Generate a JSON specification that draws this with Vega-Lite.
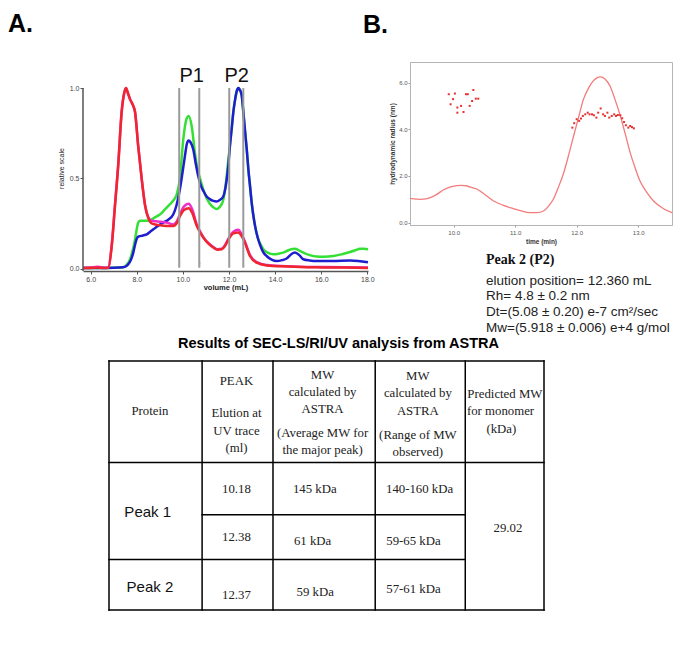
{
  "$schema": "https://vega.github.io/schema/vega-lite/v6.json",
  "padding": {"left": 8, "top": 12, "right": 0, "bottom": 0},
  "background": "white",
  "config": {"view": {"stroke": null}, "font": "Liberation Sans"},
  "title": {"text": "B.", "anchor": "start", "frame": "group", "dx": 280, "offset": -46, "fontSize": 25, "fontWeight": "bold", "font": "Liberation Sans", "color": "black", "baseline": "alphabetic"},
  "bounds": "flush",
  "align": "none",
  "columns": 2,
  "spacing": {"row": 90, "column": 42},
  "concat": [
    {
      "width": 285,
      "height": 209,
      "title": {"text": "A.", "anchor": "start", "frame": "group", "dx": -75, "offset": 5, "fontSize": 25, "fontWeight": "bold", "font": "Liberation Sans", "color": "black", "baseline": "alphabetic"},
      "layer": [
        {
          "data": {"values": [
            {"series":"green","volume":5.67,"signal":0.003},{"series":"green","volume":6.5,"signal":0.004},{"series":"green","volume":7.0,"signal":0.005},{"series":"green","volume":7.42,"signal":0.008},{"series":"green","volume":7.55,"signal":0.02},{"series":"green","volume":7.7,"signal":0.05},{"series":"green","volume":7.8,"signal":0.09},{"series":"green","volume":7.92,"signal":0.16},{"series":"green","volume":8.0,"signal":0.22},{"series":"green","volume":8.06,"signal":0.255},{"series":"green","volume":8.15,"signal":0.265},{"series":"green","volume":8.3,"signal":0.265},{"series":"green","volume":8.57,"signal":0.268},{"series":"green","volume":8.8,"signal":0.285},{"series":"green","volume":9.0,"signal":0.3},{"series":"green","volume":9.2,"signal":0.325},{"series":"green","volume":9.44,"signal":0.357},{"series":"green","volume":9.6,"signal":0.38},{"series":"green","volume":9.73,"signal":0.41},{"series":"green","volume":9.87,"signal":0.5},{"series":"green","volume":10.02,"signal":0.72},{"series":"green","volume":10.16,"signal":0.83},{"series":"green","volume":10.25,"signal":0.845},{"series":"green","volume":10.38,"signal":0.79},{"series":"green","volume":10.52,"signal":0.644},{"series":"green","volume":10.62,"signal":0.56},{"series":"green","volume":10.74,"signal":0.5},{"series":"green","volume":10.88,"signal":0.44},{"series":"green","volume":11.03,"signal":0.39},{"series":"green","volume":11.17,"signal":0.36},{"series":"green","volume":11.32,"signal":0.34},{"series":"green","volume":11.45,"signal":0.33},{"series":"green","volume":11.54,"signal":0.335},{"series":"green","volume":11.65,"signal":0.35},{"series":"green","volume":11.75,"signal":0.38},{"series":"green","volume":11.85,"signal":0.46},{"series":"green","volume":11.97,"signal":0.6},{"series":"green","volume":12.04,"signal":0.68},{"series":"green","volume":12.12,"signal":0.78},{"series":"green","volume":12.19,"signal":0.87},{"series":"green","volume":12.27,"signal":0.94},{"series":"green","volume":12.33,"signal":0.98},{"series":"green","volume":12.4,"signal":1.0},{"series":"green","volume":12.47,"signal":0.99},{"series":"green","volume":12.55,"signal":0.96},{"series":"green","volume":12.62,"signal":0.87},{"series":"green","volume":12.69,"signal":0.77},{"series":"green","volume":12.77,"signal":0.66},{"series":"green","volume":12.84,"signal":0.55},{"series":"green","volume":12.91,"signal":0.46},{"series":"green","volume":12.98,"signal":0.37},{"series":"green","volume":13.05,"signal":0.3},{"series":"green","volume":13.13,"signal":0.237},{"series":"green","volume":13.25,"signal":0.17},{"series":"green","volume":13.35,"signal":0.14},{"series":"green","volume":13.49,"signal":0.107},{"series":"green","volume":13.7,"signal":0.088},{"series":"green","volume":13.92,"signal":0.08},{"series":"green","volume":14.15,"signal":0.083},{"series":"green","volume":14.35,"signal":0.089},{"series":"green","volume":14.6,"signal":0.103},{"series":"green","volume":14.86,"signal":0.11},{"series":"green","volume":15.05,"signal":0.1},{"series":"green","volume":15.22,"signal":0.089},{"series":"green","volume":15.5,"signal":0.075},{"series":"green","volume":15.8,"signal":0.067},{"series":"green","volume":16.1,"signal":0.066},{"series":"green","volume":16.53,"signal":0.07},{"series":"green","volume":16.9,"signal":0.08},{"series":"green","volume":17.25,"signal":0.092},{"series":"green","volume":17.5,"signal":0.103},{"series":"green","volume":17.68,"signal":0.11},{"series":"green","volume":17.85,"signal":0.11},{"series":"green","volume":18.03,"signal":0.107},
            {"series":"blue","volume":5.67,"signal":0.003},{"series":"blue","volume":6.5,"signal":0.004},{"series":"blue","volume":7.0,"signal":0.005},{"series":"blue","volume":7.4,"signal":0.008},{"series":"blue","volume":7.52,"signal":0.012},{"series":"blue","volume":7.63,"signal":0.024},{"series":"blue","volume":7.75,"signal":0.05},{"series":"blue","volume":7.85,"signal":0.09},{"series":"blue","volume":7.92,"signal":0.13},{"series":"blue","volume":7.99,"signal":0.163},{"series":"blue","volume":8.07,"signal":0.178},{"series":"blue","volume":8.14,"signal":0.18},{"series":"blue","volume":8.3,"signal":0.185},{"series":"blue","volume":8.43,"signal":0.19},{"series":"blue","volume":8.58,"signal":0.205},{"series":"blue","volume":8.72,"signal":0.218},{"series":"blue","volume":8.9,"signal":0.235},{"series":"blue","volume":9.15,"signal":0.255},{"series":"blue","volume":9.35,"signal":0.27},{"series":"blue","volume":9.58,"signal":0.3},{"series":"blue","volume":9.72,"signal":0.35},{"series":"blue","volume":9.87,"signal":0.44},{"series":"blue","volume":9.98,"signal":0.53},{"series":"blue","volume":10.09,"signal":0.626},{"series":"blue","volume":10.17,"signal":0.69},{"series":"blue","volume":10.24,"signal":0.71},{"series":"blue","volume":10.33,"signal":0.7},{"series":"blue","volume":10.45,"signal":0.66},{"series":"blue","volume":10.56,"signal":0.58},{"series":"blue","volume":10.67,"signal":0.51},{"series":"blue","volume":10.78,"signal":0.46},{"series":"blue","volume":10.89,"signal":0.43},{"series":"blue","volume":11.03,"signal":0.4},{"series":"blue","volume":11.17,"signal":0.385},{"series":"blue","volume":11.32,"signal":0.375},{"series":"blue","volume":11.46,"signal":0.372},{"series":"blue","volume":11.6,"signal":0.38},{"series":"blue","volume":11.75,"signal":0.4},{"series":"blue","volume":11.85,"signal":0.45},{"series":"blue","volume":11.97,"signal":0.57},{"series":"blue","volume":12.04,"signal":0.68},{"series":"blue","volume":12.12,"signal":0.78},{"series":"blue","volume":12.19,"signal":0.87},{"series":"blue","volume":12.27,"signal":0.94},{"series":"blue","volume":12.33,"signal":0.98},{"series":"blue","volume":12.4,"signal":1.0},{"series":"blue","volume":12.47,"signal":0.99},{"series":"blue","volume":12.55,"signal":0.96},{"series":"blue","volume":12.62,"signal":0.87},{"series":"blue","volume":12.69,"signal":0.77},{"series":"blue","volume":12.77,"signal":0.66},{"series":"blue","volume":12.84,"signal":0.55},{"series":"blue","volume":12.91,"signal":0.46},{"series":"blue","volume":12.98,"signal":0.37},{"series":"blue","volume":13.05,"signal":0.3},{"series":"blue","volume":13.13,"signal":0.237},{"series":"blue","volume":13.25,"signal":0.17},{"series":"blue","volume":13.35,"signal":0.13},{"series":"blue","volume":13.49,"signal":0.09},{"series":"blue","volume":13.63,"signal":0.07},{"series":"blue","volume":13.85,"signal":0.05},{"series":"blue","volume":14.07,"signal":0.042},{"series":"blue","volume":14.3,"signal":0.047},{"series":"blue","volume":14.5,"signal":0.056},{"series":"blue","volume":14.7,"signal":0.08},{"series":"blue","volume":14.86,"signal":0.089},{"series":"blue","volume":15.05,"signal":0.075},{"series":"blue","volume":15.22,"signal":0.052},{"series":"blue","volume":15.5,"signal":0.045},{"series":"blue","volume":15.8,"signal":0.042},{"series":"blue","volume":16.5,"signal":0.042},{"series":"blue","volume":17.25,"signal":0.045},{"series":"blue","volume":17.6,"signal":0.043},{"series":"blue","volume":18.03,"signal":0.035},
            {"series":"magenta","volume":5.67,"signal":0.004},{"series":"magenta","volume":6.0,"signal":0.006},{"series":"magenta","volume":6.3,"signal":0.01},{"series":"magenta","volume":6.6,"signal":0.005},{"series":"magenta","volume":6.76,"signal":0.006},{"series":"magenta","volume":6.91,"signal":0.13},{"series":"magenta","volume":7.05,"signal":0.35},{"series":"magenta","volume":7.2,"signal":0.59},{"series":"magenta","volume":7.34,"signal":0.87},{"series":"magenta","volume":7.45,"signal":0.97},{"series":"magenta","volume":7.53,"signal":1.0},{"series":"magenta","volume":7.62,"signal":0.97},{"series":"magenta","volume":7.7,"signal":0.94},{"series":"magenta","volume":7.85,"signal":0.9},{"series":"magenta","volume":7.92,"signal":0.87},{"series":"magenta","volume":8.06,"signal":0.68},{"series":"magenta","volume":8.21,"signal":0.5},{"series":"magenta","volume":8.36,"signal":0.35},{"series":"magenta","volume":8.5,"signal":0.285},{"series":"magenta","volume":8.65,"signal":0.265},{"series":"magenta","volume":8.8,"signal":0.262},{"series":"magenta","volume":9.0,"signal":0.26},{"series":"magenta","volume":9.3,"signal":0.255},{"series":"magenta","volume":9.58,"signal":0.245},{"series":"magenta","volume":9.75,"signal":0.265},{"series":"magenta","volume":9.87,"signal":0.3},{"series":"magenta","volume":10.05,"signal":0.345},{"series":"magenta","volume":10.25,"signal":0.36},{"series":"magenta","volume":10.4,"signal":0.33},{"series":"magenta","volume":10.6,"signal":0.245},{"series":"magenta","volume":10.75,"signal":0.205},{"series":"magenta","volume":10.9,"signal":0.172},{"series":"magenta","volume":11.1,"signal":0.142},{"series":"magenta","volume":11.32,"signal":0.12},{"series":"magenta","volume":11.5,"signal":0.108},{"series":"magenta","volume":11.68,"signal":0.11},{"series":"magenta","volume":11.85,"signal":0.135},{"series":"magenta","volume":11.97,"signal":0.165},{"series":"magenta","volume":12.19,"signal":0.205},{"series":"magenta","volume":12.4,"signal":0.215},{"series":"magenta","volume":12.55,"signal":0.19},{"series":"magenta","volume":12.69,"signal":0.15},{"series":"magenta","volume":12.91,"signal":0.075},{"series":"magenta","volume":13.2,"signal":0.036},{"series":"magenta","volume":13.63,"signal":0.02},{"series":"magenta","volume":14.5,"signal":0.014},{"series":"magenta","volume":15.08,"signal":0.011},{"series":"magenta","volume":16.0,"signal":0.009},{"series":"magenta","volume":17.0,"signal":0.008},{"series":"magenta","volume":18.03,"signal":0.006},
            {"series":"red","volume":5.67,"signal":0.003},{"series":"red","volume":6.0,"signal":0.004},{"series":"red","volume":6.3,"signal":0.006},{"series":"red","volume":6.6,"signal":0.004},{"series":"red","volume":6.76,"signal":0.005},{"series":"red","volume":6.91,"signal":0.12},{"series":"red","volume":7.05,"signal":0.34},{"series":"red","volume":7.2,"signal":0.58},{"series":"red","volume":7.34,"signal":0.86},{"series":"red","volume":7.45,"signal":0.97},{"series":"red","volume":7.53,"signal":1.0},{"series":"red","volume":7.62,"signal":0.97},{"series":"red","volume":7.7,"signal":0.94},{"series":"red","volume":7.85,"signal":0.9},{"series":"red","volume":7.92,"signal":0.87},{"series":"red","volume":8.06,"signal":0.68},{"series":"red","volume":8.21,"signal":0.5},{"series":"red","volume":8.36,"signal":0.35},{"series":"red","volume":8.5,"signal":0.28},{"series":"red","volume":8.65,"signal":0.25},{"series":"red","volume":8.8,"signal":0.245},{"series":"red","volume":9.0,"signal":0.24},{"series":"red","volume":9.3,"signal":0.236},{"series":"red","volume":9.58,"signal":0.236},{"series":"red","volume":9.75,"signal":0.255},{"series":"red","volume":9.87,"signal":0.29},{"series":"red","volume":10.05,"signal":0.325},{"series":"red","volume":10.25,"signal":0.335},{"series":"red","volume":10.4,"signal":0.31},{"series":"red","volume":10.6,"signal":0.237},{"series":"red","volume":10.75,"signal":0.2},{"series":"red","volume":10.9,"signal":0.17},{"series":"red","volume":11.1,"signal":0.14},{"series":"red","volume":11.32,"signal":0.117},{"series":"red","volume":11.5,"signal":0.105},{"series":"red","volume":11.68,"signal":0.107},{"series":"red","volume":11.85,"signal":0.13},{"series":"red","volume":11.97,"signal":0.16},{"series":"red","volume":12.19,"signal":0.195},{"series":"red","volume":12.4,"signal":0.2},{"series":"red","volume":12.55,"signal":0.18},{"series":"red","volume":12.69,"signal":0.144},{"series":"red","volume":12.91,"signal":0.07},{"series":"red","volume":13.2,"signal":0.033},{"series":"red","volume":13.63,"signal":0.018},{"series":"red","volume":14.5,"signal":0.012},{"series":"red","volume":15.08,"signal":0.009},{"series":"red","volume":16.0,"signal":0.007},{"series":"red","volume":17.0,"signal":0.006},{"series":"red","volume":18.03,"signal":0.004}
          ]},
          "mark": {"type": "line", "strokeWidth": 2.5, "interpolate": "monotone"},
          "encoding": {
            "x": {"field": "volume", "type": "quantitative", "scale": {"domain": [5.666, 18.03], "nice": false, "zero": false},
              "axis": {"values": [6, 8, 10, 12, 14, 16, 18], "format": ".1f", "title": "volume (mL)", "titleFontWeight": "bold", "titleFontSize": 7.5, "titleColor": "#222", "labelFontSize": 7, "labelColor": "#444", "domainColor": "#555", "domainWidth": 1.5, "tickColor": "#555", "tickSize": 3, "labelPadding": 1, "titlePadding": 1, "grid": false, "labelFlush": false}},
            "y": {"field": "signal", "type": "quantitative", "scale": {"domain": [-0.013, 1.1444], "nice": false, "zero": false},
              "axis": {"values": [0, 0.5, 1], "format": ".1f", "title": "relative scale", "titleFontWeight": "normal", "titleFontSize": 7, "titleColor": "#222", "titleY": 106, "labelFontSize": 7, "labelColor": "#444", "domain": false, "tickColor": "#555", "tickSize": 3, "labelPadding": 1, "titlePadding": 5, "grid": false}},
            "color": {"field": "series", "type": "nominal", "sort": null, "scale": {"domain": ["green", "blue", "magenta", "red"], "range": ["#35e035", "#1e1ecf", "#ee2ec8", "#f0262e"]}, "legend": null}
          }
        },
        {
          "data": {"values": [{"volume": 5.666, "signal": 1.0, "signal_end": -0.013}]},
          "mark": {"type": "rule", "color": "#555", "strokeWidth": 1.5},
          "encoding": {
            "x": {"field": "volume", "type": "quantitative"},
            "y": {"field": "signal", "type": "quantitative"},
            "y2": {"field": "signal_end"}
          }
        },
        {
          "data": {"values": [
            {"volume": 9.84, "signal": 1.0, "signal_end": 0.005},
            {"volume": 10.71, "signal": 1.0, "signal_end": 0.005},
            {"volume": 12.01, "signal": 1.0, "signal_end": 0.005},
            {"volume": 12.62, "signal": 1.0, "signal_end": 0.005}
          ]},
          "mark": {"type": "rule", "color": "#9a9a9a", "strokeWidth": 2},
          "encoding": {
            "x": {"field": "volume", "type": "quantitative"},
            "y": {"field": "signal", "type": "quantitative"},
            "y2": {"field": "signal_end"}
          }
        },
        {
          "data": {"values": [
            {"volume": 9.84, "signal": 0.025, "label": "2"},
            {"volume": 10.71, "signal": 0.025, "label": "2"},
            {"volume": 12.01, "signal": 0.025, "label": "1"},
            {"volume": 12.62, "signal": 0.025, "label": "1"}
          ]},
          "mark": {"type": "text", "fontSize": 5, "color": "#aaaaaa", "baseline": "middle"},
          "encoding": {
            "x": {"field": "volume", "type": "quantitative"},
            "y": {"field": "signal", "type": "quantitative"},
            "text": {"field": "label"}
          }
        },
        {
          "data": {"values": [
            {"volume": 10.38, "signal": 1.066, "label": "P1"},
            {"volume": 12.33, "signal": 1.066, "label": "P2"}
          ]},
          "mark": {"type": "text", "fontSize": 20, "font": "Liberation Sans", "baseline": "middle", "color": "#111"},
          "encoding": {
            "x": {"field": "volume", "type": "quantitative"},
            "y": {"field": "signal", "type": "quantitative"},
            "text": {"field": "label"}
          }
        }
      ]
    },
    {
      "width": 262,
      "height": 163,
      "view": {"stroke": "#b5b5b5", "strokeWidth": 1},
      "title": {
        "text": "Peak 2 (P2)",
        "subtitle": ["elution position= 12.360 mL", "Rh= 4.8 ± 0.2 nm", "Dt=(5.08 ± 0.20) e-7 cm²/sec", "Mw=(5.918 ± 0.006) e+4 g/mol"],
        "orient": "bottom", "anchor": "start", "frame": "group", "dx": 76, "offset": 8,
        "font": "Liberation Serif", "fontWeight": "bold", "fontSize": 14, "color": "#111",
        "subtitleFont": "Liberation Sans", "subtitleFontSize": 13.5, "subtitleColor": "#222", "subtitlePadding": 7, "subtitleLineHeight": 15.7
      },
      "layer": [
        {
          "data": {"values": [
            {"time":9.29,"radius":1.04},{"time":9.4,"radius":1.01},{"time":9.46,"radius":1.0},{"time":9.55,"radius":1.02},{"time":9.62,"radius":1.07},{"time":9.72,"radius":1.2},{"time":9.83,"radius":1.4},{"time":9.95,"radius":1.53},{"time":10.05,"radius":1.59},{"time":10.13,"radius":1.6},{"time":10.22,"radius":1.57},{"time":10.3,"radius":1.5},{"time":10.38,"radius":1.43},{"time":10.5,"radius":1.22},{"time":10.65,"radius":0.93},{"time":10.8,"radius":0.75},{"time":10.97,"radius":0.6},{"time":11.1,"radius":0.5},{"time":11.24,"radius":0.43},{"time":11.36,"radius":0.43},{"time":11.46,"radius":0.5},{"time":11.54,"radius":0.7},{"time":11.62,"radius":1.0},{"time":11.7,"radius":1.5},{"time":11.79,"radius":2.14},{"time":11.87,"radius":2.9},{"time":11.95,"radius":3.71},{"time":12.03,"radius":4.5},{"time":12.11,"radius":5.28},{"time":12.19,"radius":5.75},{"time":12.27,"radius":6.07},{"time":12.33,"radius":6.2},{"time":12.39,"radius":6.24},{"time":12.46,"radius":6.15},{"time":12.54,"radius":5.86},{"time":12.62,"radius":5.3},{"time":12.71,"radius":4.57},{"time":12.79,"radius":3.8},{"time":12.87,"radius":3.0},{"time":12.95,"radius":2.35},{"time":13.03,"radius":1.78},{"time":13.14,"radius":1.3},{"time":13.25,"radius":0.93},{"time":13.4,"radius":0.62},{"time":13.55,"radius":0.43}
          ]},
          "mark": {"type": "line", "color": "#f27c7c", "strokeWidth": 1.3, "interpolate": "monotone"},
          "encoding": {
            "x": {"field": "time", "type": "quantitative", "scale": {"domain": [9.29, 13.55], "nice": false, "zero": false},
              "axis": {"values": [10, 11, 12, 13], "format": ".1f", "title": "time (min)", "titleFontWeight": "bold", "titleFontSize": 6.5, "titleColor": "#333", "labelFontSize": 6, "labelColor": "#555", "domainColor": "#b5b5b5", "tickColor": "#999", "tickSize": 2, "labelPadding": 2, "titlePadding": 3, "grid": false}},
            "y": {"field": "radius", "type": "quantitative", "scale": {"domain": [-0.1, 6.88], "nice": false, "zero": false},
              "axis": {"values": [0, 1, 2, 3, 4, 5, 6], "format": ".1f", "labelOverlap": "greedy", "title": "hydrodynamic radius (nm)", "titleFontWeight": "bold", "titleFontSize": 6.5, "titleColor": "#333", "labelFontSize": 6, "labelColor": "#555", "domainColor": "#b5b5b5", "tickColor": "#999", "tickSize": 2, "labelPadding": 1, "titlePadding": 3, "grid": false}}
          }
        },
        {
          "data": {"values": [
            {"time":9.92,"radius":5.5},{"time":9.95,"radius":5.07},{"time":9.99,"radius":5.29},{"time":10.02,"radius":5.53},{"time":10.06,"radius":4.93},{"time":10.06,"radius":4.71},{"time":10.12,"radius":5.0},{"time":10.16,"radius":4.74},{"time":10.2,"radius":5.5},{"time":10.23,"radius":5.5},{"time":10.26,"radius":5.0},{"time":10.3,"radius":5.21},{"time":10.32,"radius":5.68},{"time":10.36,"radius":5.31},{"time":10.4,"radius":5.31},
            {"time":11.93,"radius":4.07},{"time":11.96,"radius":4.26},{"time":12.0,"radius":4.43},{"time":12.04,"radius":4.36},{"time":12.07,"radius":4.46},{"time":12.1,"radius":4.57},{"time":12.14,"radius":4.64},{"time":12.18,"radius":4.71},{"time":12.21,"radius":4.64},{"time":12.25,"radius":4.64},{"time":12.28,"radius":4.6},{"time":12.32,"radius":4.5},{"time":12.35,"radius":4.71},{"time":12.39,"radius":4.89},{"time":12.43,"radius":4.64},{"time":12.46,"radius":4.57},{"time":12.5,"radius":4.71},{"time":12.53,"radius":4.5},{"time":12.57,"radius":4.57},{"time":12.61,"radius":4.64},{"time":12.64,"radius":4.57},{"time":12.67,"radius":4.61},{"time":12.71,"radius":4.6},{"time":12.74,"radius":4.47},{"time":12.77,"radius":4.31},{"time":12.8,"radius":4.17},{"time":12.84,"radius":4.07},{"time":12.87,"radius":4.14},{"time":12.9,"radius":4.09},{"time":12.93,"radius":4.04}
          ]},
          "mark": {"type": "square", "color": "#e63030", "size": 4, "opacity": 1},
          "encoding": {
            "x": {"field": "time", "type": "quantitative"},
            "y": {"field": "radius", "type": "quantitative"}
          }
        }
      ]
    },
    {
      "width": 285,
      "height": 249,
      "title": {"text": "Results of SEC-LS/RI/UV analysis from ASTRA", "fontSize": 14.5, "fontWeight": "bold", "font": "Liberation Sans", "color": "black", "dx": 113, "offset": 8},
      "layer": [
        {
          "data": {"values": [
            {"x": 0, "x2": 100, "y": 0, "y2": 0},
            {"x": 0, "x2": 100, "y": 100, "y2": 100},
            {"x": 0, "x2": 0, "y": 0, "y2": 100},
            {"x": 100, "x2": 100, "y": 0, "y2": 100},
            {"x": 21.4, "x2": 21.4, "y": 0, "y2": 100},
            {"x": 37.7, "x2": 37.7, "y": 0, "y2": 100},
            {"x": 61.2, "x2": 61.2, "y": 0, "y2": 100},
            {"x": 81.9, "x2": 81.9, "y": 0, "y2": 100},
            {"x": 0, "x2": 100, "y": 40.8, "y2": 40.8},
            {"x": 21.4, "x2": 81.9, "y": 61.7, "y2": 61.7},
            {"x": 0, "x2": 81.9, "y": 79.7, "y2": 79.7}
          ]},
          "mark": {"type": "rule", "color": "black", "strokeWidth": 1.5, "strokeCap": "square"},
          "encoding": {
            "x": {"field": "x", "type": "quantitative", "scale": {"domain": [-5.977, 59.54], "nice": false, "zero": false}, "axis": null},
            "x2": {"field": "x2"},
            "y": {"field": "y", "type": "quantitative", "scale": {"domain": [0, 100], "reverse": true, "nice": false}, "axis": null},
            "y2": {"field": "y2"}
          }
        },
        {
          "data": {"values": [
            {"text": "Protein", "x": 9.4, "y": 20.1},
            {"text": "PEAK", "x": 29.3, "y": 8.1},
            {"text": "Elution at", "x": 29.3, "y": 21.0},
            {"text": "UV trace", "x": 29.3, "y": 28.2},
            {"text": "(ml)", "x": 29.3, "y": 35.0},
            {"text": "MW", "x": 49.1, "y": 5.6},
            {"text": "calculated by", "x": 49.1, "y": 12.6},
            {"text": "ASTRA", "x": 49.1, "y": 19.4},
            {"text": "(Average MW for", "x": 49.1, "y": 29.0},
            {"text": "the major peak)", "x": 49.1, "y": 35.8},
            {"text": "MW", "x": 71.0, "y": 6.0},
            {"text": "calculated by", "x": 71.0, "y": 12.9},
            {"text": "ASTRA", "x": 71.0, "y": 20.2},
            {"text": "(Range of MW", "x": 71.0, "y": 29.8},
            {"text": "observed)", "x": 71.0, "y": 36.6},
            {"text": "Predicted MW", "x": 91.0, "y": 13.4},
            {"text": "for monomer", "x": 90.0, "y": 20.2},
            {"text": "(kDa)", "x": 90.2, "y": 27.4},
            {"text": "10.18", "x": 29.3, "y": 51.5},
            {"text": "145 kDa", "x": 47.3, "y": 51.5},
            {"text": "140-160 kDa", "x": 71.4, "y": 51.5},
            {"text": "12.38", "x": 29.3, "y": 70.8},
            {"text": "61 kDa", "x": 46.8, "y": 72.2},
            {"text": "59-65 kDa", "x": 70.0, "y": 72.2},
            {"text": "12.37", "x": 29.3, "y": 93.9},
            {"text": "59 kDa", "x": 47.4, "y": 92.8},
            {"text": "57-61 kDa", "x": 70.0, "y": 91.6},
            {"text": "29.02", "x": 91.7, "y": 67.1}
          ]},
          "mark": {"type": "text", "font": "Liberation Serif", "fontSize": 12.8, "align": "center", "baseline": "middle", "color": "#222"},
          "encoding": {
            "x": {"field": "x", "type": "quantitative"},
            "y": {"field": "y", "type": "quantitative"},
            "text": {"field": "text"}
          }
        },
        {
          "data": {"values": [
            {"text": "Peak 1", "x": 8.9, "y": 60.6},
            {"text": "Peak 2", "x": 9.4, "y": 90.7}
          ]},
          "mark": {"type": "text", "font": "Liberation Sans", "fontSize": 15, "align": "center", "baseline": "middle", "color": "#111"},
          "encoding": {
            "x": {"field": "x", "type": "quantitative"},
            "y": {"field": "y", "type": "quantitative"},
            "text": {"field": "text"}
          }
        }
      ]
    }
  ]
}
